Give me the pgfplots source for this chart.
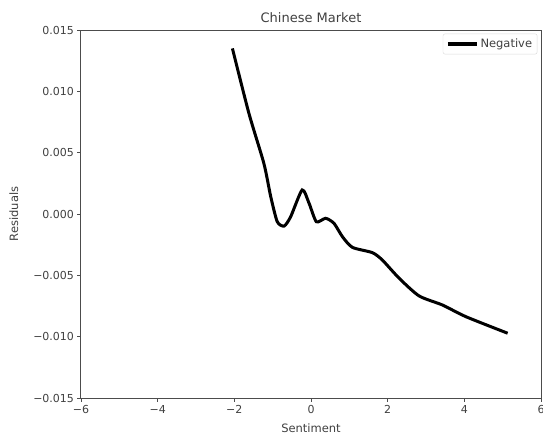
\documentclass[border=0pt]{standalone}
\usepackage{pgfplots}
\pgfplotsset{compat=1.18}
\usepackage{fontspec}
\setmainfont{DejaVu Sans}
\begin{document}
\begin{tikzpicture}
\begin{axis}[
  width=460pt, height=368pt, scale only axis,
  xmin=-6, xmax=6, ymin=-0.015, ymax=0.015,
  xtick={-6,-4,-2,0,2,4,6},
  xticklabels={−6,−4,−2,0,2,4,6},
  ytick={-0.015,-0.010,-0.005,0,0.005,0.010,0.015},
  yticklabels={−0.015,−0.010,−0.005,0.000,0.005,0.010,0.015},
  scaled y ticks=false,
  tick align=outside, tick pos=left,
  major tick length=3.5pt,
  axis line style={black!70, line width=1pt},
  every tick/.style={black!70, line width=0.9pt},
  tick label style={font=\fontsize{11}{13}\selectfont, text=black!75},
  title={Chinese Market},
  title style={font=\fontsize{13}{15}\selectfont, text=black!75, yshift=-2pt},
  xlabel={Sentiment}, ylabel={Residuals},
  label style={font=\fontsize{11.5}{13}\selectfont, text=black!75},
  xlabel style={yshift=-4pt},
  ylabel style={yshift=8pt},
  legend style={draw=black!15, rounded corners=2pt, font=\fontsize{11.5}{13}\selectfont, text=black!75, at={(0.992,0.99)}, anchor=north east, inner sep=3pt},
  legend cell align=left,
  legend image code/.code={\draw[#1, line width=3.5pt] (0pt,0pt) -- (29pt,0pt);},
]
\addplot[black, line width=3pt, smooth, tension=0.4] coordinates {
(-2.05,0.01350)
(-1.62,0.00821)
(-1.23,0.00413)
(-1.05,0.00141)
(-0.88,-0.00063)
(-0.70,-0.00098)
(-0.53,-0.00022)
(-0.23,0.00196)
(-0.05,0.00087)
(0.14,-0.00063)
(0.38,-0.00035)
(0.60,-0.00076)
(0.82,-0.00185)
(1.08,-0.00272)
(1.60,-0.00315)
(1.86,-0.00375)
(2.30,-0.00524)
(2.82,-0.00668)
(3.43,-0.00742)
(4.04,-0.00837)
(5.13,-0.00972)
};
\addlegendentry{Negative}
\coordinate (bl) at (rel axis cs:0,0);
\coordinate (tr) at (rel axis cs:1,1);
\end{axis}
\pgfresetboundingbox
\path ([xshift=-81pt,yshift=-41pt]bl) rectangle ([xshift=2pt,yshift=30pt]tr);
\end{tikzpicture}
\end{document}
